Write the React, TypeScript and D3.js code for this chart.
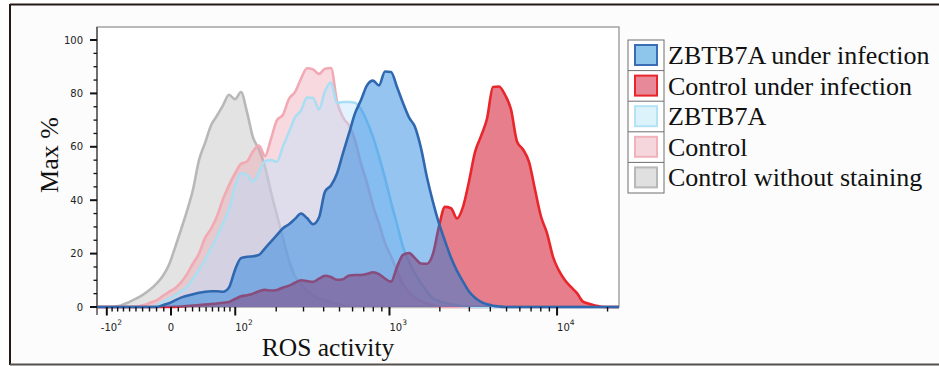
import React, { useEffect, useRef } from "react";
import * as d3 from "d3";

// 88 histogram channels, evenly spaced on the biexponential display axis (left edge -> right edge)
const controlNoStain = [
  0, 0, 0, 0.2, 0.6, 1.5, 2.6, 3.7, 5.1, 6.8,
  8.9, 11.7, 15.8, 22.2, 29, 36, 44, 55, 61.4, 68,
  71.7, 75.5, 79.5, 77.8, 80.5, 73, 63.5, 59, 52.5, 43,
  34.3, 25.7, 17.5, 11.5, 8.6, 6.2, 4.4, 3.2, 2.4, 1.7,
  1.1, 0.6, 0.1, 0, 0, 0, 0, 0, 0, 0,
  0, 0, 0, 0, 0, 0, 0, 0, 0, 0,
  0, 0, 0, 0, 0, 0, 0, 0, 0, 0,
  0, 0, 0, 0, 0, 0, 0, 0, 0, 0,
  0, 0, 0, 0, 0, 0, 0, 0,
];

const control = [
  0, 0, 0, 0, 0, 0, 0, 0.3, 0.8, 1.7,
  2.6, 4.2, 5.7, 7, 9.2, 12.3, 16.3, 20, 25.8, 29.3,
  34, 40.4, 45.6, 50, 53.6, 54.5, 58.3, 60.5, 56.5, 63,
  70, 72, 78, 80.5, 85.5, 89.4, 89, 87.3, 89.2, 89.5,
  77, 71, 68, 62.5, 53.7, 46.5, 38, 31.3, 24, 19,
  13.5, 8.5, 5.5, 3.4, 2.2, 1.3, 0.7, 0.2, 0, 0,
  0, 0, 0, 0, 0, 0, 0, 0, 0, 0,
  0, 0, 0, 0, 0, 0, 0, 0, 0, 0,
  0, 0, 0, 0, 0, 0, 0, 0,
];

const zbtb7a = [
  0, 0, 0, 0, 0, 0, 0, 0, 0, 0,
  0.7, 1.9, 3.1, 4.4, 5.9, 7.5, 10.6, 13.9, 17.6, 22,
  26.3, 31.4, 36.6, 45, 50.1, 49.4, 47, 50.5, 54.7, 55,
  54.4, 60.2, 65.5, 71, 73.6, 78.4, 78.3, 74, 80.9, 84.1,
  76.4, 76.8, 76.8, 76.5, 74, 69.5, 63.7, 56.3, 48.3, 39.3,
  31, 22.5, 17, 12.5, 9, 5.7, 3.2, 2.2, 1.5, 1,
  0.6, 0.3, 0.1, 0, 0, 0, 0, 0, 0, 0,
  0, 0, 0, 0, 0, 0, 0, 0, 0, 0,
  0, 0, 0, 0, 0, 0, 0, 0,
];

const controlInfected = [
  0, 0, 0, 0, 0, 0, 0, 0, 0, 0,
  0, 0, 0, 0.05, 0.2, 0.4, 0.5, 0.7, 0.9, 1.1,
  1.3, 1.6, 1.9, 3, 4, 4.4, 5, 5.9, 6.4, 6.2,
  6.4, 7.3, 8, 9.1, 10, 9.7, 9.4, 10.6, 11.7, 11.2,
  10.2, 10.4, 11.8, 12, 12, 12.4, 13, 12.3, 10.6, 9.5,
  15, 19.5, 20.2, 18.3, 16.3, 16.2, 20, 30.2, 37.5, 37,
  33.2, 37.5, 47, 58, 64, 70.5, 82.4, 82.6, 79.5, 74,
  62, 59, 54.4, 44, 33.9, 27.7, 18.8, 13.6, 10, 7.5,
  5.2, 2, 1.2, 0.6, 0.1, 0, 0, 0,
];

const zbtb7aInfected = [
  0, 0, 0, 0, 0, 0, 0, 0, 0, 0,
  0, 0.7, 1.4, 2.5, 3.5, 4.2, 4.8, 5.3, 5.7, 5.9,
  5.9, 5.7, 7.3, 13.9, 18.3, 18.8, 19, 19.5, 22, 24.5,
  27, 29.5, 31, 33, 35, 33.3, 31, 33.5, 43.2, 45.5,
  50, 57.6, 65, 72.5, 77.5, 83, 84.8, 83, 88.2, 88,
  82.4, 76.4, 71, 67.4, 59.5, 48.5, 39.3, 31.3, 24.7, 18.5,
  13.5, 9.5, 5.8, 3.5, 1.9, 1, 0.5, 0.2, 0, 0,
  0, 0, 0, 0, 0, 0, 0, 0, 0, 0,
  0, 0, 0, 0, 0, 0, 0, 0,
];

const legendLabels = [
  "ZBTB7A under infection",
  "Control under infection",
  "ZBTB7A",
  "Control",
  "Control without staining",
];

const yTicks = [0, 20, 40, 60, 80, 100];
const yMinorTicks = [5, 10, 15, 25, 30, 35, 45, 50, 55, 65, 70, 75, 85, 90, 95];
const xMajorTicks = [-100, 0, 100, 1000, 10000];
const xTickBase = ["-10", "0", "10", "10", "10"];
const xTickSup = ["2", "", "2", "3", "4"];
const xMinorTicks = [
  -90, -80, -70, -60, -50, -40, -30, -20, -10,
  10, 20, 30, 40, 50, 60, 70, 80, 90,
  200, 300, 400, 500, 600, 700, 800, 900,
  2000, 3000, 4000, 5000, 6000, 7000, 8000, 9000, 20000,
];

export default function App() {
  const ref = useRef<SVGSVGElement>(null);

  useEffect(() => {
    const svg = d3.select(ref.current);
    svg.selectAll("*").remove();

    const width = 939;
    const plot = { left: 97, right: 619, top: 27, bottom: 307 };

    // biexponential-ish display transform (arcsinh, linear near zero)
    const tf = (v: number) => Math.asinh(v / 100);
    const xDomain = [tf(-120), tf(23400)];
    const x = d3.scaleLinear().domain(xDomain).range([plot.left, plot.right]);
    const y = d3.scaleLinear().domain([0, 100]).range([plot.bottom, 40]);

    const nBins = zbtb7aInfected.length;
    const chan = d3.scaleLinear().domain([0, nBins - 1]).range(xDomain);

    // outer frame
    svg.append("rect").attr("x", 10).attr("y", 4).attr("width", 940).attr("height", 360)
      .attr("fill", "#fcfcfc");
    svg.append("line").attr("x1", 10).attr("x2", width).attr("y1", 4.5).attr("y2", 4.5)
      .attr("stroke", "#231815").attr("stroke-width", 2);
    svg.append("line").attr("x1", 10).attr("x2", 10).attr("y1", 4).attr("y2", 365)
      .attr("stroke", "#231815").attr("stroke-width", 2);
    svg.append("line").attr("x1", 10).attr("x2", width).attr("y1", 364.5).attr("y2", 364.5)
      .attr("stroke", "#55504c").attr("stroke-width", 2);

    // plot frame
    svg.append("rect").attr("x", plot.left).attr("y", plot.top)
      .attr("width", plot.right - plot.left).attr("height", plot.bottom - plot.top)
      .attr("fill", "#ffffff").attr("stroke", "#8c8c8c").attr("stroke-width", 1.2);

    const series = [
      { data: controlNoStain, fill: "#c6c7c6", op: 0.5, stroke: "#b8b8b8" },
      { data: control, fill: "#ee9fae", op: 0.4, stroke: "#f2a9b4" },
      { data: zbtb7a, fill: "#bce0ff", op: 0.42, stroke: "#a9def3" },
      { data: controlInfected, fill: "#d9394d", op: 0.65, stroke: "#e8262c" },
      { data: zbtb7aInfected, fill: "#147de1", op: 0.45, stroke: "#3068b0" },
    ];

    const area = d3.area<number>()
      .x((_, i) => x(chan(i)))
      .y0(y(0))
      .y1((d) => y(d))
      .curve(d3.curveMonotoneX);
    const line = d3.line<number>()
      .x((_, i) => x(chan(i)))
      .y((d) => y(d))
      .curve(d3.curveMonotoneX);

    const g = svg.append("g");
    series.forEach((s) => {
      g.append("path").attr("d", area(s.data)).attr("fill", s.fill).attr("fill-opacity", s.op);
      g.append("path").attr("d", line(s.data)).attr("fill", "none")
        .attr("stroke", s.stroke).attr("stroke-width", 2.6)
        .attr("stroke-linejoin", "round");
    });

    // axes
    svg.append("line").attr("x1", plot.left).attr("x2", plot.left)
      .attr("y1", plot.top).attr("y2", plot.bottom + 8)
      .attr("stroke", "#555").attr("stroke-width", 1.5);

    const yAxis = svg.append("g").attr("font-family", "DejaVu Sans").attr("font-size", 10).attr("fill", "#222");
    yTicks.forEach((t) => {
      yAxis.append("line").attr("x1", plot.left - 7).attr("x2", plot.left)
        .attr("y1", y(t)).attr("y2", y(t)).attr("stroke", "#111").attr("stroke-width", 2);
      yAxis.append("text").attr("x", 83).attr("y", y(t) + 3.5).attr("text-anchor", "end").text(t);
    });
    yMinorTicks.forEach((t) => {
      yAxis.append("line").attr("x1", plot.left - 3.5).attr("x2", plot.left)
        .attr("y1", y(t)).attr("y2", y(t)).attr("stroke", "#111").attr("stroke-width", 1.3);
    });

    const xAxis = svg.append("g").attr("font-family", "DejaVu Sans").attr("font-size", 10).attr("fill", "#222");
    xMinorTicks.forEach((t) => {
      xAxis.append("line").attr("x1", x(tf(t))).attr("x2", x(tf(t)))
        .attr("y1", plot.bottom).attr("y2", plot.bottom + 4.5)
        .attr("stroke", "#111").attr("stroke-width", 1.4);
    });
    xMajorTicks.forEach((t, i) => {
      const px = x(tf(t));
      xAxis.append("line").attr("x1", px).attr("x2", px)
        .attr("y1", plot.bottom).attr("y2", plot.bottom + 8.5)
        .attr("stroke", "#111").attr("stroke-width", 2);
      const label = xAxis.append("text").attr("y", 331);
      if (t === 0) {
        label.attr("x", px).attr("text-anchor", "middle").text(xTickBase[i]);
      } else {
        label.attr("x", t < 0 ? px - 6 : px).attr("text-anchor", "start");
        label.append("tspan").text(xTickBase[i]);
        label.append("tspan").attr("dy", -6).attr("font-size", 7.5).text(xTickSup[i]);
      }
    });

    // axis titles
    svg.append("text").attr("x", 328).attr("y", 356).attr("text-anchor", "middle")
      .attr("font-family", "Liberation Serif").attr("font-size", 25.5).attr("fill", "#111")
      .text("ROS activity");
    svg.append("text").attr("transform", "translate(58,155) rotate(-90)").attr("text-anchor", "middle")
      .attr("font-family", "Liberation Serif").attr("font-size", 26).attr("fill", "#111")
      .text("Max %");

    // legend
    const legendFill = ["#8ec5ea", "#e8899a", "#dcf3fb", "#f5d6dc", "#e0e0e0"];
    const legendStroke = ["#3a6db5", "#e8262b", "#b3e3f5", "#f0b3bc", "#b8b8b8"];
    const lx = 628, ly = 40, rowH = 30.6;
    const legend = svg.append("g");
    legend.append("rect").attr("x", lx).attr("y", ly).attr("width", 36).attr("height", rowH * 5)
      .attr("fill", "#fff").attr("stroke", "#6e6e6e").attr("stroke-width", 1);
    legendLabels.forEach((name, i) => {
      const top = ly + i * rowH;
      if (i > 0) {
        legend.append("line").attr("x1", lx).attr("x2", lx + 36).attr("y1", top).attr("y2", top)
          .attr("stroke", "#6e6e6e").attr("stroke-width", 1);
      }
      legend.append("rect").attr("x", lx + 7).attr("y", top + 5).attr("width", 22).attr("height", 20)
        .attr("fill", legendFill[i]).attr("stroke", legendStroke[i]).attr("stroke-width", 2);
      legend.append("text").attr("x", 668).attr("y", top + 24)
        .attr("font-family", "Liberation Serif").attr("font-size", 26).attr("fill", "#111")
        .text(name);
    });
  }, []);

  return (
    <svg ref={ref} width={939} height={366}
      style={{ position: "absolute", left: 0, top: 0, background: "#ffffff" }} />
  );
}
